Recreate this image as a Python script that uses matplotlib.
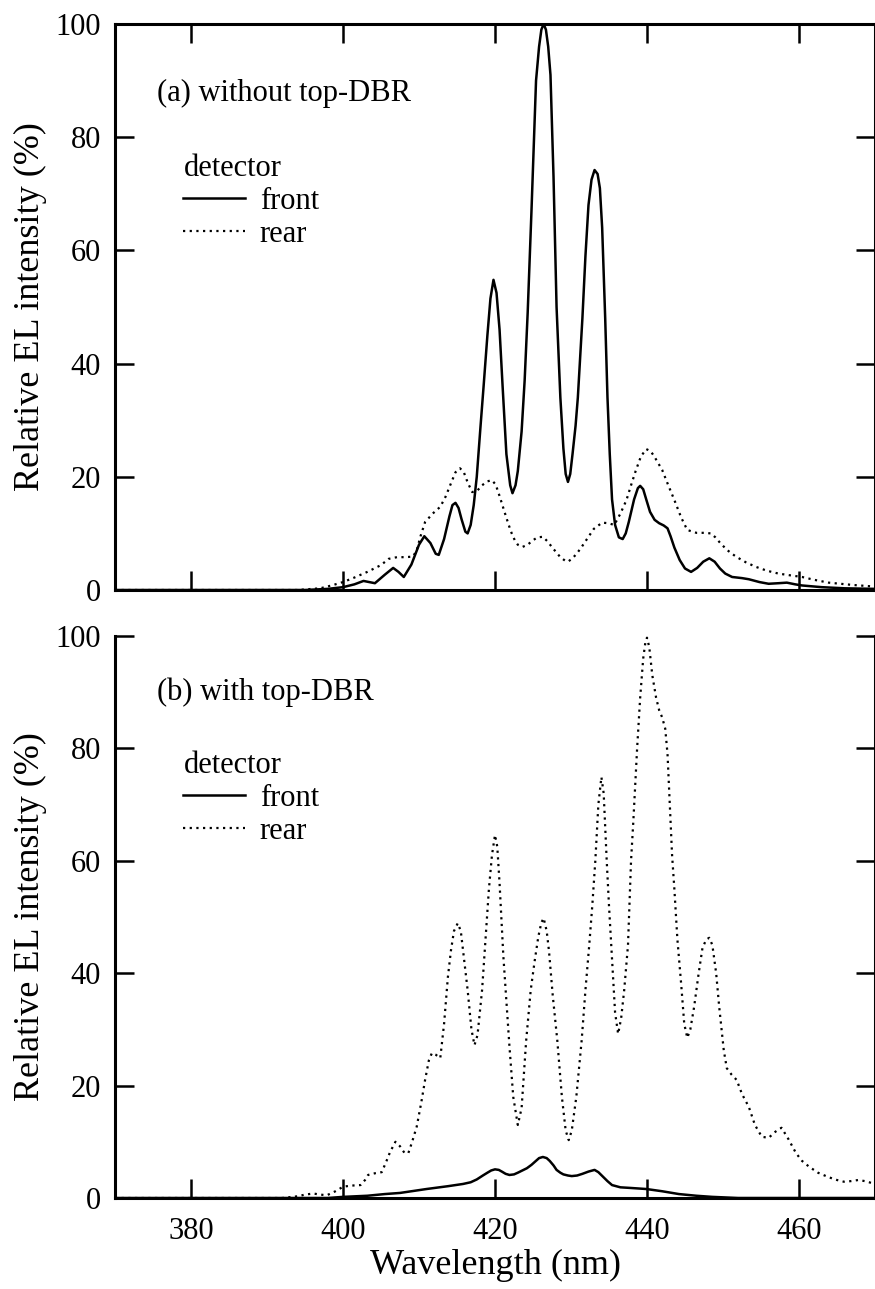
import matplotlib
matplotlib.use("Agg")
import matplotlib.pyplot as plt

plt.rcParams['font.family'] = ['Liberation Serif', 'DejaVu Serif']

# (a) without top-DBR, solid = front detector
wl_a_front = [370, 395, 398, 400, 401.5, 402.7, 404.2, 405.5, 406.6, 407.3, 408, 409, 410, 410.7,
              411.5, 412.2, 412.6, 413.3, 414, 414.4, 414.8, 415.2, 415.6, 416.1, 416.4, 416.8,
              417.2, 417.6, 418.1, 418.5, 419.0, 419.4, 419.8, 420.2, 420.6, 421.0, 421.5, 422.0,
              422.3, 422.7, 423.0, 423.5, 423.9, 424.3, 424.8, 425.4, 425.8, 426.1, 426.4, 426.7,
              427.0, 427.3, 427.7, 428.1, 428.6, 429.0, 429.3, 429.6, 429.9, 430.2, 430.6, 430.9,
              431.5, 431.9, 432.3, 432.7, 433.1, 433.5, 433.8, 434.1, 434.5, 434.8, 435.1, 435.4,
              435.8, 436.3, 436.8, 437.2, 437.6, 438.3, 438.8, 439.1, 439.5, 439.9, 440.4, 441.0,
              441.6, 442.2, 442.7, 443.1, 443.6, 444.3, 445.0, 445.8, 446.6, 447.4, 448.2, 448.9,
              449.6, 450.3, 451.2, 452.5, 453.4, 454.8, 456.0, 457.3, 458.4, 459.5, 460.4, 463.0,
              466.0, 470.0]
front_a = [0, 0, 0.2, 0.5, 1.0, 1.6, 1.2, 2.7, 3.9, 3.2, 2.3, 4.5, 8.0, 9.5,
           8.3, 6.4, 6.2, 9.0, 13.0, 15.0, 15.4, 14.5, 12.5, 10.3, 10.0, 11.5,
           15.0, 20.0, 29.0, 36.0, 45.0, 51.5, 54.8, 52.5, 46.0, 36.0, 24.0, 18.5,
           17.1, 18.5, 21.0, 28.0, 37.0, 49.0, 67.0, 90.0, 96.0, 99.0, 100.0, 99.0,
           96.0, 91.0, 73.0, 50.0, 34.0, 25.0, 20.5, 19.1, 20.5, 24.0, 29.0, 34.0,
           48.0, 59.0, 68.0, 72.5, 74.2, 73.5, 71.0, 64.0, 48.0, 34.0, 24.0, 16.0,
           11.5, 9.3, 9.0, 10.0, 12.0, 16.0, 18.0, 18.4, 17.8, 16.0, 13.8, 12.4,
           11.8, 11.4, 10.9, 9.5, 7.5, 5.3, 3.8, 3.2, 3.9, 5.0, 5.6, 5.0,
           3.8, 2.9, 2.3, 2.1, 1.9, 1.4, 1.1, 1.2, 1.3, 1.0, 0.8, 0.5,
           0.3, 0.2]

# (a) dotted = rear detector
wl_a_rear = [370, 394, 397, 398.5, 400, 401.5, 403.2, 405, 406, 407.1, 408.2, 409.2, 409.7, 410.2,
             410.8, 411.8, 412.8, 413.5, 414.1, 414.8, 415.4, 415.9, 416.4, 417.0, 417.7, 418.3,
             419.0, 419.6, 420.1, 420.6, 421.3, 421.8, 422.2, 422.6, 423.0, 423.6, 424.3, 425.0,
             425.6, 426.3, 426.9, 427.6, 428.6, 429.2, 429.6, 430.2, 430.8, 431.4, 432.0, 433.0,
             434.1, 434.9, 435.7, 436.5, 437.3, 437.9, 438.5, 439.2, 439.9, 440.5, 441.0, 442.0,
             442.8, 443.6, 444.5, 445.3, 446.5, 447.5, 448.4, 449.0, 449.7, 450.6, 451.7, 453.0,
             454.3, 455.8, 457.3, 458.8, 460.4, 462.0, 463.9, 467, 470]
rear_a = [0, 0, 0.3, 0.8, 1.4, 2.2, 3.2, 4.4, 5.5, 5.8, 5.8, 5.9, 7.0, 9.5,
          12.0, 13.5, 14.7, 16.5, 18.5, 20.8, 21.5, 20.8, 19.0, 17.3, 17.6, 18.5,
          19.2, 19.4, 18.6, 16.6, 13.6, 11.5, 10.0, 8.8, 8.0, 7.6, 8.0, 8.8,
          9.3, 9.4, 8.6, 7.4, 5.8, 5.2, 5.0, 5.6, 6.5, 7.6, 8.8, 10.8,
          11.9, 11.8, 11.5, 13.5, 15.9, 18.5, 21.0, 23.6, 24.9, 24.5, 23.5, 21.2,
          18.5, 15.9, 12.8, 10.6, 10.1, 10.1, 10.0, 9.3, 8.2, 7.0, 5.9, 4.9,
          4.1, 3.4, 2.9, 2.6, 2.3, 1.8, 1.3, 0.9, 0.6]

# (b) with top-DBR, solid = front detector
wl_b_front = [370, 398, 400, 403.2, 405.5, 407.5, 409.5, 411, 413.8, 415.8, 416.8, 417.6, 418.4,
              419.0, 419.5, 420.0, 420.5, 420.9, 421.4, 421.9, 422.5, 423.0, 423.6, 424.2, 424.8,
              425.3, 425.8, 426.3, 426.8, 427.2, 427.7, 428.1, 428.6, 429.0, 429.6, 430.1, 430.8,
              431.5, 432.3, 433.1, 433.6, 434.2, 434.8, 435.4, 436.5, 437.7, 439.9, 442.0, 444.2,
              446.5, 448.6, 452, 470]
front_b = [0, 0, 0.2, 0.4, 0.7, 0.9, 1.3, 1.6, 2.1, 2.5, 2.8, 3.3, 4.0,
           4.5, 4.9, 5.1, 5.0, 4.7, 4.3, 4.1, 4.2, 4.5, 4.9, 5.3, 5.9,
           6.5, 7.1, 7.3, 7.1, 6.6, 5.8, 5.0, 4.5, 4.2, 4.0, 3.9, 4.0,
           4.3, 4.7, 5.0, 4.6, 3.8, 3.0, 2.3, 1.9, 1.8, 1.6, 1.2, 0.7,
           0.4, 0.2, 0, 0]

# (b) dotted = rear detector
wl_b_rear = [370, 392, 394, 395, 396.1, 397.0, 397.9, 399, 400, 401, 402.3, 402.9, 403.3, 404.2,
             405.1, 405.7, 406.2, 406.9, 407.5, 408.1, 408.6, 409.1, 409.7, 410.3, 410.8, 411.3,
             411.7, 412.2, 412.8, 413.3, 413.8, 414.2, 414.6, 415.1, 415.5, 415.8, 416.4, 416.9,
             417.3, 417.7, 418.3, 418.8, 419.2, 419.6, 420.0, 420.3, 420.6, 421.1, 421.5, 421.9,
             422.4, 423.0, 423.5, 424.1, 424.7, 425.2, 425.7, 426.1, 426.4, 426.8, 427.1, 427.6,
             428.2, 428.8, 429.3, 429.7, 430.1, 430.7, 431.4, 431.9, 432.4, 432.8, 433.2, 433.6,
             434.0, 434.3, 434.7, 435.0, 435.3, 435.8, 436.2, 436.6, 437.0, 437.5, 437.9, 438.2,
             438.7, 439.1, 439.5, 439.8, 440.0, 440.3, 440.7, 441.2, 441.6, 442.0, 442.4, 442.7,
             443.0, 443.3, 443.6, 444.0, 444.5, 444.9, 445.3, 445.7, 446.2, 446.8, 447.3, 447.8,
             448.2, 448.6, 449.1, 449.5, 450.1, 450.5, 451.1, 451.8, 452.5, 453.4, 454.2, 455.1,
             456.0, 456.9, 457.7, 458.6, 459.6, 460.4, 461.3, 462.5, 463.9, 465.0, 465.9, 466.8,
             467.8, 468.7, 469.5, 470]
rear_b = [0, 0, 0.3, 0.6, 0.8, 0.6, 0.5, 1.2, 2.0, 2.2, 2.3, 3.2, 4.1, 4.4,
          4.6, 6.5, 8.2, 10.0, 9.2, 8.0, 8.0, 10.0, 12.7, 17.0, 21.0, 24.5,
          25.8, 25.5, 24.9, 31.0, 39.3, 44.0, 47.5, 48.9, 47.5, 44.0, 37.0, 30.0,
          27.2, 29.0, 37.0, 47.0, 55.0, 61.0, 64.6, 62.5, 56.0, 43.0, 35.0, 27.0,
          18.0, 13.0, 16.0, 28.0, 37.0, 42.0, 46.5, 49.0, 49.8, 47.5, 44.0, 36.0,
          28.0, 18.0, 12.0, 10.3, 12.0, 18.0, 28.0, 37.0, 45.0, 52.0, 60.0, 70.0,
          74.9, 72.0, 60.0, 52.0, 45.0, 33.0, 29.2, 32.0, 37.0, 45.0, 60.0, 67.0,
          80.0, 89.0, 96.0, 99.0, 99.7, 98.0, 93.0, 89.0, 86.8, 85.5, 83.5, 79.0,
          70.0, 61.0, 55.0, 46.0, 38.0, 31.0, 28.5, 30.0, 34.0, 40.0, 44.5, 46.0,
          46.3, 45.0, 40.0, 34.0, 26.3, 23.1, 22.0, 21.0, 18.5, 16.2, 13.0, 10.9,
          10.7, 11.8, 12.5, 10.5, 8.0, 6.6, 5.6, 4.5, 3.7, 3.2, 2.9, 3.0,
          3.2, 3.0, 2.7, 2.5]

xticks = [380, 400, 420, 440, 460]
yticks = [0, 20, 40, 60, 80, 100]

W, H = 875, 1289
fig = plt.figure(figsize=(W / 100, H / 100), dpi=100)
ax_a = fig.add_axes([115 / W, (H - 590) / H, 760 / W, 566 / H])
ax_b = fig.add_axes([115 / W, (H - 1198) / H, 760 / W, 562 / H])

fs = 22
for ax in (ax_a, ax_b):
    ax.set_xlim(370, 470)
    ax.set_ylim(0, 100)
    ax.set_xticks(xticks)
    ax.set_yticks(yticks)
    for s in ax.spines.values():
        s.set_linewidth(2.2)
    ax.tick_params(direction='in', length=14, width=1.8, labelsize=fs, pad=10,
                   right=True)

ax_a.tick_params(top=True, labelbottom=False)
ax_b.spines['top'].set_visible(False)
ax_b.tick_params(top=False, axis='x', pad=14)

for ax, fr, re, wf, wr in ((ax_a, front_a, rear_a, wl_a_front, wl_a_rear),
                           (ax_b, front_b, rear_b, wl_b_front, wl_b_rear)):
    ax.plot(wf, fr, color='black', lw=1.8, label='front', solid_joinstyle='round')
    ax.plot(wr, re, color='black', lw=1.6, linestyle=(0, (1, 2)), label='rear')

ax_a.text(0.055, 0.878, '(a) without top-DBR', transform=ax_a.transAxes,
          fontsize=fs, va='center', ha='left')
ax_b.text(0.055, 0.900, '(b) with top-DBR', transform=ax_b.transAxes,
          fontsize=fs, va='center', ha='left')

for ax, y in ((ax_a, 0.77), (ax_b, 0.795)):
    ax.legend(loc='upper left', bbox_to_anchor=(0.09, y), frameon=False,
              fontsize=fs, title='detector', title_fontsize=fs, alignment='left',
              handlelength=2.0, handletextpad=0.5, labelspacing=0.12,
              borderpad=0, borderaxespad=0)

fig.text(30 / W, 1 - 307 / H, 'Relative EL intensity (%)', rotation=90,
         ha='center', va='center', fontsize=26)
fig.text(30 / W, 1 - 917 / H, 'Relative EL intensity (%)', rotation=90,
         ha='center', va='center', fontsize=26)
fig.text(495 / W, 1 - 1265 / H, 'Wavelength (nm)', ha='center', va='center',
         fontsize=26)

fig.savefig('out.png', dpi=100)
